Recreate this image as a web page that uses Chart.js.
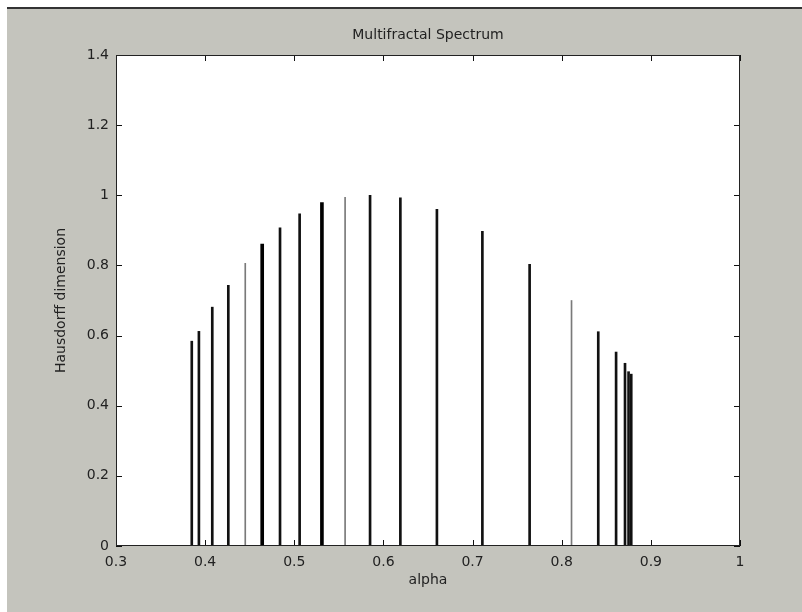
<!DOCTYPE html>
<html>
<head>
<meta charset="utf-8">
<script src="https://cdn.jsdelivr.net/npm/chart.js@4.4.1/dist/chart.umd.min.js"></script>
<style>
  html, body { margin: 0; padding: 0; background: #ffffff; width: 802px; height: 612px; overflow: hidden; }
  #frame { position: absolute; left: 7px; top: 7px; width: 795px; height: 603px; background: #c4c4bd; border-top: 2px solid #333; }
  #wrap { position: absolute; left: 0; top: 0; width: 802px; height: 612px; }
</style>
</head>
<body>
<div id="frame"></div>
<div id="wrap"><canvas id="c" width="802" height="612"></canvas></div>
<script>
// ---- data ----
const alpha = [0.385, 0.393, 0.408, 0.426, 0.445, 0.464, 0.484, 0.506, 0.531, 0.557, 0.585,
               0.619, 0.660, 0.711, 0.764, 0.811, 0.841, 0.861, 0.871, 0.875, 0.878];
const hausdorff = [0.584, 0.612, 0.681, 0.743, 0.806, 0.861, 0.907, 0.947, 0.979, 0.994, 1.000,
                   0.993, 0.960, 0.897, 0.803, 0.700, 0.611, 0.553, 0.521, 0.497, 0.490];
const xTickLabels = ['0.3', '0.4', '0.5', '0.6', '0.7', '0.8', '0.9', '1'];
const yTickLabels = ['0', '0.2', '0.4', '0.6', '0.8', '1', '1.2', '1.4'];

// ---- styles (kept apart from the data) ----
const stemWeight = [2, 2, 2, 2, 1, 3, 2, 2, 3, 1, 2, 2, 2, 2, 2, 1, 2, 2, 2, 2, 2];
const weightColor = { 1: '#7a7a7a', 2: '#111111', 3: '#000000' };

const FONT = "'DejaVu Sans', 'Liberation Sans', sans-serif";
const FS = 14;

function datasetFor(w) {
  const pts = [];
  alpha.forEach((a, i) => { if (stemWeight[i] === w) pts.push({ x: a, y: hausdorff[i] }); });
  return {
    data: pts,
    barThickness: w,
    backgroundColor: weightColor[w],
    borderWidth: 0,
    grouped: false
  };
}

const plotBg = {
  id: 'plotBg',
  beforeDraw(chart) {
    const { ctx, chartArea: a } = chart;
    ctx.save();
    ctx.fillStyle = '#ffffff';
    ctx.fillRect(a.left, a.top, a.right - a.left, a.bottom - a.top);
    ctx.restore();
  }
};

const boxTicks = {
  id: 'boxTicks',
  afterDatasetsDraw(chart) {
    const { ctx, chartArea: a, scales } = chart;
    const L = 6;
    ctx.save();
    ctx.strokeStyle = '#111';
    ctx.lineWidth = 1;
    ctx.beginPath();
    scales.x.ticks.forEach(t => {
      const px = Math.round(scales.x.getPixelForValue(t.value)) + 0.5;
      ctx.moveTo(px, a.bottom); ctx.lineTo(px, a.bottom - L);
      ctx.moveTo(px, a.top); ctx.lineTo(px, a.top + L);
    });
    scales.y.ticks.forEach(t => {
      const py = Math.round(scales.y.getPixelForValue(t.value)) + 0.5;
      ctx.moveTo(a.left, py); ctx.lineTo(a.left + L, py);
      ctx.moveTo(a.right, py); ctx.lineTo(a.right - L, py);
    });
    ctx.stroke();
    ctx.strokeStyle = '#222';
    ctx.strokeRect(Math.round(a.left) + 0.5, Math.round(a.top) + 0.5,
                   Math.round(a.right - a.left) - 1, Math.round(a.bottom - a.top) - 1);
    ctx.restore();
  }
};

new Chart(document.getElementById('c'), {
  type: 'bar',
  data: { datasets: [datasetFor(1), datasetFor(2), datasetFor(3)] },
  plugins: [plotBg, boxTicks],
  options: {
    responsive: false,
    animation: false,
    devicePixelRatio: 1,
    layout: { padding: { left: 0, right: 62, top: 0, bottom: 0 } },
    plugins: {
      legend: { display: false },
      tooltip: { enabled: false },
      title: { display: false }
    },
    scales: {
      x: {
        type: 'linear',
        position: 'bottom',
        min: 0.3, max: 1,
        offset: false,
        grid: { display: false, drawTicks: false },
        border: { display: false },
        ticks: {
          stepSize: 0.1,
          color: '#222',
          padding: 8,
          maxRotation: 0,
          font: { family: FONT, size: FS },
          callback: (v, i) => xTickLabels[i]
        },
        title: {
          display: true, text: 'alpha', color: '#222',
          font: { family: FONT, size: FS },
          padding: { top: 0, bottom: 23.6 }
        },
        afterFit(scale) { scale.height = 66; }
      },
      xTop: {
        type: 'linear',
        axis: 'x',
        position: 'top',
        min: 0.3, max: 1,
        offset: false,
        grid: { display: false, drawTicks: false },
        border: { display: false },
        ticks: { display: false },
        title: {
          display: true, text: 'Multifractal Spectrum', color: '#222',
          font: { family: FONT, size: FS },
          padding: { top: 26.6, bottom: 0 }
        },
        afterFit(scale) { scale.height = 55; }
      },
      y: {
        type: 'linear',
        min: 0, max: 1.4,
        grid: { display: false, drawTicks: false },
        border: { display: false },
        ticks: {
          stepSize: 0.2,
          color: '#222',
          padding: 7,
          font: { family: FONT, size: FS },
          callback: (v, i) => yTickLabels[i]
        },
        title: {
          display: true, text: 'Hausdorff dimension', color: '#222',
          font: { family: FONT, size: FS },
          padding: { top: 52.6, bottom: 0 }
        },
        afterFit(scale) { scale.width = 116; }
      }
    }
  }
});
</script>
</body>
</html>
